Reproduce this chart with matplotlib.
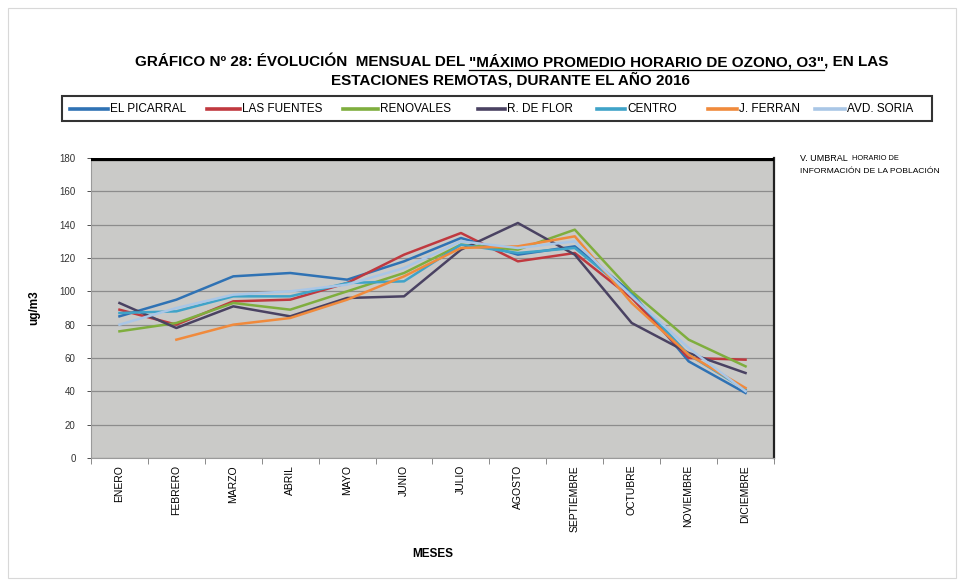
import numpy as np
import matplotlib
matplotlib.use("Agg")
import matplotlib.pyplot as plt
from matplotlib.lines import Line2D
from matplotlib.patches import Rectangle

plt.rcParams['font.family'] = ['Liberation Sans', 'DejaVu Sans']

meses = ["ENERO", "FEBRERO", "MARZO", "ABRIL", "MAYO", "JUNIO", "JULIO",
         "AGOSTO", "SEPTIEMBRE", "OCTUBRE", "NOVIEMBRE", "DICIEMBRE"]

el_picarral = [85, 95, 109, 111, 107, 118, 132, 122, 127, 99, 58, 39]
las_fuentes = [89, 80, 94, 95, 105, 122, 135, 118, 123, 96, 60, 59]
renovales = [76, 81, 93, 89, 100, 111, 128, 125, 137, 100, 71, 55]
r_de_flor = [93, 78, 91, 85, 96, 97, 125, 141, 122, 81, 63, 51]
centro = [87, 88, 97, 97, 105, 106, 128, 123, 126, 98, 62, 41]
j_ferran = [np.nan, 71, 80, 84, 95, 109, 126, 127, 133, 93, 62, 42]
avd_soria = [80, 90, 98, 100, 104, 114, 130, 126, 130, 97, 66, 40]

umbral = 180
y_ticks = [0, 20, 40, 60, 80, 100, 120, 140, 160, 180]

series = [
    ("EL PICARRAL", el_picarral, "#2F72B4"),
    ("LAS FUENTES", las_fuentes, "#C0393F"),
    ("RENOVALES", renovales, "#7FAE3E"),
    ("R. DE FLOR", r_de_flor, "#4A4262"),
    ("CENTRO", centro, "#3FA3C8"),
    ("J. FERRAN", j_ferran, "#F08A3C"),
    ("AVD. SORIA", avd_soria, "#A9C6E6"),
]

W, H = 964, 585
fig = plt.figure(figsize=(W / 100, H / 100), dpi=100)
fig.patch.set_facecolor("white")


def fx(px):
    return px / W


def fy(py):
    return 1 - py / H


# faint outer frame
fig.add_artist(Rectangle((0.008, 0.012), 0.984, 0.975, transform=fig.transFigure,
                         fill=False, edgecolor="#D8D8D8", lw=0.8))

ax = fig.add_axes([fx(91), fy(458), (774 - 91) / W, 300 / H])
ax.set_facecolor("#CACAC8")

x = np.arange(len(meses))
for name, vals, col in series:
    ax.plot(x, vals, color=col, lw=1.8, label=name)

ax.axhline(umbral, color="black", lw=4.5, zorder=5)

ax.set_xlim(-0.5, len(meses) - 0.5)
ax.set_ylim(0, 180)
ax.set_yticks(y_ticks)
ax.set_yticklabels([str(v) for v in y_ticks], fontsize=7)
ax.yaxis.grid(True, color="#8C8C8C", lw=0.9)
ax.set_axisbelow(True)
ax.tick_params(axis="y", length=3, width=0.6, pad=8, colors="#333333")

ax.set_xticks(x)
ax.set_xticklabels(meses, rotation=90, fontsize=7.5, va="top")
ax.set_xticks(np.arange(len(meses) + 1) - 0.5, minor=True)
ax.tick_params(axis="x", which="major", length=0, pad=5)
ax.tick_params(axis="x", which="minor", length=4, width=0.6, color="#777777")

for s in ["left", "bottom"]:
    ax.spines[s].set_color("#9A9A9A")
    ax.spines[s].set_linewidth(0.8)
ax.spines["top"].set_visible(False)
ax.spines["right"].set_color("#222222")
ax.spines["right"].set_linewidth(1.6)

ax.set_ylabel("ug/m3", fontsize=8.5, fontweight="bold", labelpad=14)
ax.set_xlabel("MESES", fontsize=8.5, fontweight="bold", labelpad=12)

# title
fs_t = 11
t_left = fig.text(fx(135), fy(62), "GRÁFICO Nº 28: ÉVOLUCIÓN  MENSUAL DEL ", ha="left",
                  va="center", fontsize=fs_t, fontweight="bold")
fig.canvas.draw()
bl = t_left.get_window_extent()
t_mid = fig.text(bl.x1 / W, fy(62), "\"MÁXIMO PROMEDIO HORARIO DE OZONO, O3\"", ha="left",
                 va="center", fontsize=fs_t, fontweight="bold")
fig.canvas.draw()
bb = t_mid.get_window_extent()
fig.add_artist(Line2D([bb.x0 / W, bb.x1 / W], [(bb.y0 - 0.5) / H, (bb.y0 - 0.5) / H],
                      transform=fig.transFigure, color="black", lw=0.9))
fig.text(bb.x1 / W, fy(62), ", EN LAS", ha="left", va="center",
         fontsize=fs_t, fontweight="bold")
fig.text(fx(510), fy(80), "ESTACIONES REMOTAS, DURANTE EL AÑO 2016", ha="center",
         va="center", fontsize=fs_t, fontweight="bold")

# legend box with the series keys
fig.add_artist(Rectangle((fx(62), fy(121)), (932 - 62) / W, 25 / H, transform=fig.transFigure,
                         fill=False, edgecolor="#333333", lw=1.5))
key_pos = [(70, 108), (207, 240), (343, 378), (478, 505), (597, 625), (708, 737), (815, 845)]
for (name, _, col), (x0, x1) in zip(series, key_pos):
    fig.add_artist(Line2D([fx(x0), fx(x1)], [fy(108.5), fy(108.5)],
                          transform=fig.transFigure, color=col, lw=2.6))
    fig.text(fx(x1 + 2), fy(108.5), name, fontsize=8.5, va="center", ha="left")

# threshold note
fig.text(fx(800), fy(159), "V. UMBRAL", fontsize=6.5, va="center", ha="left")
fig.text(fx(852), fy(159), "HORARIO DE", fontsize=5.3, va="center", ha="left")
fig.text(fx(800), fy(171), "INFORMACIÓN DE LA POBLACIÓN", fontsize=6.1, va="center",
         ha="left")

fig.savefig("out.png", dpi=100)
